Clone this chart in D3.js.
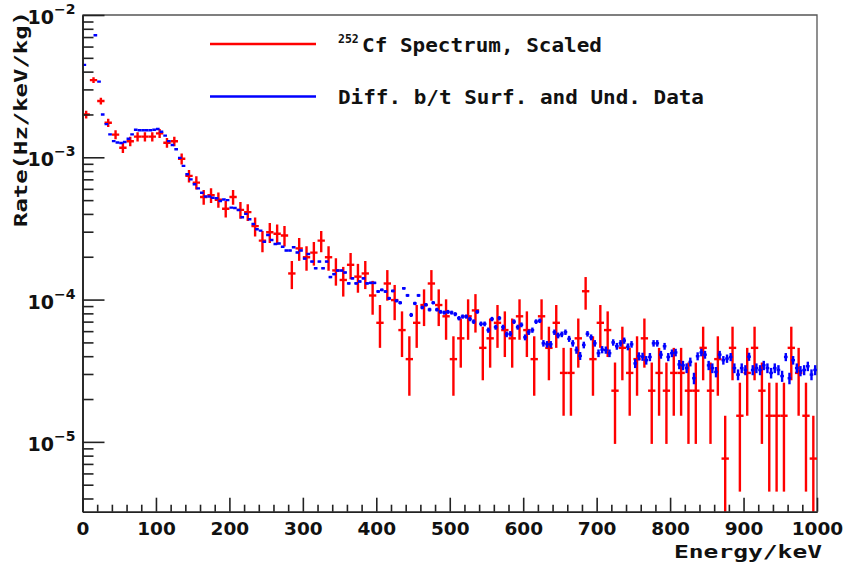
<!DOCTYPE html>
<html>
<head>
<meta charset="utf-8">
<script src="https://cdn.jsdelivr.net/npm/d3@7"></script>
<style>
  html, body { margin: 0; padding: 0; background: #fff; }
  svg { display: block; }
</style>
</head>
<body>
<div id="chart"></div>
<script>
// red: 252Cf spectrum, 10 keV bins, counts (rate = counts * rate per count)
const cfBinWidth = 10;
const cfRatePerCount = 7.63e-6;
const cfCounts = [
  262, 457, 326, 229, 189, 153, 170, 183, 183, 183,
  193, 166, 170, 128, 97, 87, 69, 71, 66, 57,
  69, 56, 54, 43, 34, 39, 38, 37, 20, 30,
  26, 28, 34, 26, 21, 18, 23, 19, 20, 14,
  9, 17, 13, 8, 5, 9, 12, 17, 12, 10,
  5, 7, 10, 11, 6, 7, 9, 8, 7, 10,
  8, 5, 10, 6, 9, 4, 4, 7, 15, 5,
  9, 8, 3, 6, 4, 5, 7, 3, 4, 3,
  4, 4, 3, 3, 6, 3, 5, 1, 6, 2,
  4, 6, 3, 2, 2, 2, 6, 4, 2, 1
];

// blue: surface - underground difference, 5 keV bins (null = not drawn on log axis)
const diffBinWidth = 5;
const diffErr = 2.6e-6;
const diffRate = [
  4.46e-3, null, null, 7.2e-3, 3.4e-3, 2.0e-3, 1.71e-3, 1.45e-3, 1.30e-3, 1.27e-3,
  1.26e-3, 1.28e-3, 1.35e-3, 1.45e-3, 1.56e-3, 1.55e-3, 1.55e-3, 1.55e-3, 1.55e-3, 1.56e-3,
  1.58e-3, 1.51e-3, 1.42e-3, 1.30e-3, 1.22e-3, 1.14e-3, 9.9e-4, 8.7e-4, 7.6e-4, 7.0e-4,
  6.46e-4, 6.05e-4, 5.63e-4, 5.3e-4, 5.3e-4, 5.2e-4, 5.15e-4, 4.93e-4, 5.05e-4, 5.0e-4,
  4.43e-4, 4.4e-4, 4.26e-4, 3.79e-4, 4.0e-4, 3.67e-4, 3.4e-4, 3.12e-4, 3.05e-4, 2.55e-4,
  2.84e-4, 2.62e-4, 2.46e-4, 2.48e-4, 2.35e-4, 2.21e-4, 2.21e-4, 2.33e-4, 2.14e-4, 2.21e-4,
  1.94e-4, 2.09e-4, 1.85e-4, 1.66e-4, 1.85e-4, 1.66e-4, 1.85e-4, 1.44e-4, 1.51e-4, 1.60e-4,
  1.60e-4, 1.55e-4, 1.30e-4, 1.41e-4, 1.30e-4, 1.34e-4, 1.41e-4, 1.30e-4, 1.31e-4, 1.31e-4,
  1.14e-4, 1.17e-4, 1.14e-4, 1.02e-4, 1.15e-4, 9.8e-5, 9.5e-5, 1.20e-4, 1.07e-4, 7.8e-5,
  9.4e-5, 1.07e-4, 8.8e-5, 9.2e-5, 8.5e-5, 9.5e-5, 8.5e-5, 8.2e-5, 8.1e-5, 8.2e-5,
  8.1e-5, 7.9e-5, 7.4e-5, 7.6e-5, 7.6e-5, 7.3e-5, 7.0e-5, 8.2e-5, 6.75e-5, 6.75e-5,
  6.1e-5, 7.3e-5, 6.4e-5, 7.4e-5, 6.4e-5, 5.7e-5, 5.75e-5, 7.0e-5, 6.4e-5, 6.65e-5,
  5.43e-5, 5.9e-5, 6.1e-5, 7.0e-5, 7.1e-5, 4.93e-5, 4.85e-5, 4.85e-5, 5.9e-5, 5.6e-5,
  5.7e-5, 5.9e-5, 5.3e-5, 4.93e-5, 4.42e-5, 4.02e-5, 4.8e-5, 5.75e-5, 5.43e-5, 4.93e-5,
  4.2e-5, 4.45e-5, 4.42e-5, 4.2e-5, 5.0e-5, 4.7e-5, 4.93e-5, 5.15e-5, 4.66e-5, 4.85e-5,
  3.56e-5, 4.0e-5, 3.97e-5, 3.75e-5, 3.95e-5, 4.93e-5, 4.93e-5, 4.1e-5, 4.7e-5, 3.95e-5,
  4.2e-5, 4.25e-5, 3.5e-5, 3.45e-5, 3.3e-5, 3.65e-5, 2.8e-5, 4.0e-5, 4.25e-5, 4.1e-5,
  3.45e-5, 3.3e-5, 3.1e-5, 4.1e-5, 3.75e-5, 3.85e-5, 3.95e-5, 3.3e-5, 2.97e-5, 3.3e-5,
  3.2e-5, 3.97e-5, 3.2e-5, 3.3e-5, 3.2e-5, 3.45e-5, 3.3e-5, 3.05e-5, 3.3e-5, 3.2e-5,
  2.9e-5, 3.95e-5, 2.8e-5, 3.75e-5, 3.3e-5, 3.15e-5, 3.2e-5, 3.4e-5, 2.97e-5, 3.2e-5
];

const xDomain = [0, 1000];
const yDomain = [3.23e-6, 1e-2];
const xMajorTicks = [0, 100, 200, 300, 400, 500, 600, 700, 800, 900, 1000];
const yDecades = [1e-5, 1e-4, 1e-3, 1e-2];
const legendLabels = ['Cf Spectrum, Scaled', 'Diff. b/t Surf. and Und. Data'];

const W = 848, H = 564;
const margin = { top: 15, right: 31, bottom: 52.3, left: 82.5 };
const RED = '#ff0000', BLUE = '#0000ff', AXIS = '#222';

const svg = d3.select('#chart').append('svg').attr('width', W).attr('height', H);

const x = d3.scaleLinear().domain(xDomain).range([margin.left, W - margin.right]);
const y = d3.scaleLog().domain(yDomain).range([H - margin.bottom, margin.top]);
const x0 = x.range()[0], x1 = x.range()[1];
const yb = y.range()[0], yt = y.range()[1];

svg.append('clipPath').attr('id', 'plotclip')
  .append('rect').attr('x', x0).attr('y', yt).attr('width', x1 - x0).attr('height', yb - yt);

// frame (top + right)
svg.append('path')
  .attr('d', `M${x0},${yt}H${x1}V${yb}`)
  .attr('fill', 'none').attr('stroke', '#555').attr('stroke-width', 1.3);

const plot = svg.append('g').attr('clip-path', 'url(#plotclip)');

// red crosses
const cf = cfCounts.map((n, i) => {
  const e = cfBinWidth * (i + 0.5);
  const v = n * cfRatePerCount;
  const err = Math.sqrt(n) * cfRatePerCount;
  return { e, v, hi: v + err, lo: v - err };
});
const redG = plot.append('g').attr('stroke', RED).attr('stroke-width', 2.4);
redG.selectAll('line.v').data(cf).join('line').attr('class', 'v')
  .attr('x1', d => x(d.e)).attr('x2', d => x(d.e))
  .attr('y1', d => y(d.hi)).attr('y2', d => d.lo > 0 ? y(d.lo) : yb + 5);
redG.selectAll('line.h').data(cf).join('line').attr('class', 'h')
  .attr('x1', d => x(d.e - cfBinWidth / 2)).attr('x2', d => x(d.e + cfBinWidth / 2))
  .attr('y1', d => y(d.v)).attr('y2', d => y(d.v));

// blue crosses
const diff = diffRate.map((v, i) => ({ e: diffBinWidth * (i + 0.5), v }))
  .filter(d => d.v != null);
const blueG = plot.append('g').attr('stroke', BLUE).attr('stroke-width', 2.4);
blueG.selectAll('line.v').data(diff).join('line').attr('class', 'v')
  .attr('x1', d => x(d.e)).attr('x2', d => x(d.e))
  .attr('y1', d => y(d.v + diffErr)).attr('y2', d => y(d.v - diffErr));
blueG.selectAll('line.h').data(diff).join('line').attr('class', 'h')
  .attr('x1', d => x(d.e - diffBinWidth / 2)).attr('x2', d => x(d.e + diffBinWidth / 2))
  .attr('y1', d => y(d.v)).attr('y2', d => y(d.v));

// x axis
const xMinor = d3.range(0, 1001, 20).filter(v => v % 100 !== 0);
const xAx = svg.append('g').attr('transform', `translate(0,${yb})`);
xAx.call(d3.axisBottom(x).tickValues(xMinor).tickSize(-7).tickSizeOuter(0).tickFormat(''));
xAx.append('g').call(d3.axisBottom(x).tickValues(xMajorTicks).tickSize(-14).tickSizeOuter(0)
  .tickPadding(10).tickFormat(d3.format('d')));
xAx.selectAll('path,line').attr('stroke', AXIS).attr('stroke-width', 1.6);
xAx.selectAll('text').attr('fill', '#111')
  .style('font-family', '"DejaVu Sans", sans-serif').style('font-weight', 'bold').style('font-size', '18.5px');

// y axis
const yMinor = [];
for (let p = -6; p <= -3; p++) for (let k = 2; k <= 9; k++) {
  const v = k * Math.pow(10, p);
  if (v >= yDomain[0] && v <= yDomain[1]) yMinor.push(v);
}
const yAx = svg.append('g').attr('transform', `translate(${x0},0)`);
yAx.call(d3.axisLeft(y).tickValues(yMinor).tickSize(-11).tickSizeOuter(0).tickFormat(''));
yAx.append('g').call(d3.axisLeft(y).tickValues(yDecades).tickSize(-22).tickSizeOuter(0).tickFormat(''));
yAx.selectAll('path,line').attr('stroke', AXIS).attr('stroke-width', 1.6);

const yLab = svg.append('g').attr('fill', '#111')
  .style('font-family', '"DejaVu Sans", sans-serif').style('font-weight', 'bold');
yDecades.forEach(v => {
  const t = yLab.append('text').attr('x', x0 - 7).attr('y', y(v) + 9).attr('text-anchor', 'end');
  t.append('tspan').style('font-size', '19px').text('10');
  t.append('tspan').style('font-size', '14px').attr('dy', -10)
    .text('\u2212' + Math.round(-Math.log10(v)));
});

// axis titles
const mono = '"DejaVu Sans Mono", "Liberation Mono", monospace';
svg.append('text').attr('x', 674).attr('y', 558)
  .attr('textLength', 148).attr('lengthAdjust', 'spacingAndGlyphs')
  .style('font-family', mono).style('font-weight', 'bold').style('font-size', '18.5px')
  .attr('fill', '#111').text('Energy/keV');
svg.append('text').attr('transform', 'translate(27,11) rotate(-90)').attr('text-anchor', 'end')
  .attr('textLength', 216).attr('lengthAdjust', 'spacingAndGlyphs')
  .style('font-family', mono).style('font-weight', 'bold').style('font-size', '18.5px')
  .attr('fill', '#111').text('Rate(Hz/keV/kg)');

// legend
const leg = svg.append('g').style('font-family', mono).style('font-weight', 'bold').attr('fill', '#111');
leg.append('line').attr('x1', 210).attr('x2', 316).attr('y1', 44).attr('y2', 44)
  .attr('stroke', RED).attr('stroke-width', 2.5);
leg.append('line').attr('x1', 210).attr('x2', 316).attr('y1', 96.5).attr('y2', 96.5)
  .attr('stroke', BLUE).attr('stroke-width', 2.5);
leg.append('text').attr('x', 338).attr('y', 42.5).style('font-size', '11.5px').text('252');
leg.append('text').attr('x', 362).attr('y', 52).style('font-size', '20px')
  .attr('textLength', 240).attr('lengthAdjust', 'spacingAndGlyphs').text(legendLabels[0]);
leg.append('text').attr('x', 338).attr('y', 104).style('font-size', '20px')
  .attr('textLength', 366).attr('lengthAdjust', 'spacingAndGlyphs').text(legendLabels[1]);
</script>
</body>
</html>
